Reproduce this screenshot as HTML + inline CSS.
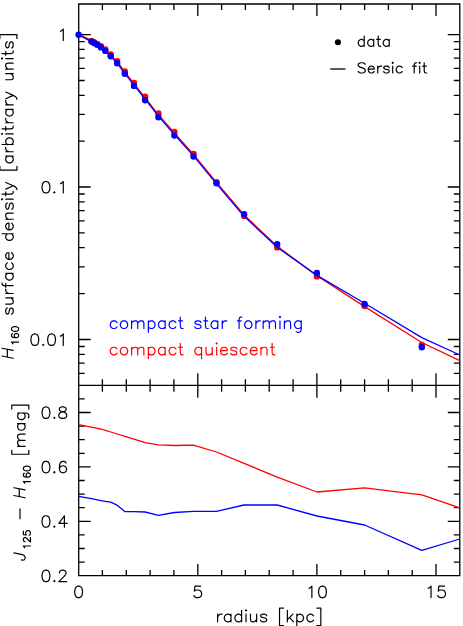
<!DOCTYPE html>
<html><head><meta charset="utf-8"><title>chart</title>
<style>html,body{margin:0;padding:0;background:#fff;overflow:hidden}svg{display:block;position:absolute;left:0;top:0}</style></head>
<body>
<svg width="463" height="626" viewBox="0 0 463 626" role="img" aria-label="Surface density and colour profiles"><desc>H160 surface density [arbitrary units] versus radius [kpc]; J125 - H160 [mag]; legend: data, Sersic fit; compact star forming (blue), compact quiescent (red)</desc>
<rect width="463" height="626" fill="#fff"/>
<path d="M78.7 4.0H459.8V575.7H78.7ZM78.7 385.3H459.8M102.4 4.0v6.0M102.4 379.3v12.5M102.4 575.7v-5.6M126.3 4.0v6.0M126.3 379.3v12.5M126.3 575.7v-5.6M150.1 4.0v6.0M150.1 379.3v12.5M150.1 575.7v-5.6M173.9 4.0v6.0M173.9 379.3v12.5M173.9 575.7v-5.6M197.8 4.0v12.0M197.8 373.3v24.5M197.8 575.7v-11.7M221.6 4.0v6.0M221.6 379.3v12.5M221.6 575.7v-5.6M245.4 4.0v6.0M245.4 379.3v12.5M245.4 575.7v-5.6M269.2 4.0v6.0M269.2 379.3v12.5M269.2 575.7v-5.6M293.1 4.0v6.0M293.1 379.3v12.5M293.1 575.7v-5.6M316.9 4.0v12.0M316.9 373.3v24.5M316.9 575.7v-11.7M340.7 4.0v6.0M340.7 379.3v12.5M340.7 575.7v-5.6M364.6 4.0v6.0M364.6 379.3v12.5M364.6 575.7v-5.6M388.4 4.0v6.0M388.4 379.3v12.5M388.4 575.7v-5.6M412.2 4.0v6.0M412.2 379.3v12.5M412.2 575.7v-5.6M436.0 4.0v12.0M436.0 373.3v24.5M436.0 575.7v-11.7M78.7 34.6h12.0M459.8 34.6h-12.0M78.7 187.0h12.0M459.8 187.0h-12.0M78.7 141.2h6.0M459.8 141.2h-6.0M78.7 114.3h6.0M459.8 114.3h-6.0M78.7 95.3h6.0M459.8 95.3h-6.0M78.7 80.5h6.0M459.8 80.5h-6.0M78.7 68.4h6.0M459.8 68.4h-6.0M78.7 58.2h6.0M459.8 58.2h-6.0M78.7 49.4h6.0M459.8 49.4h-6.0M78.7 41.6h6.0M459.8 41.6h-6.0M78.7 339.5h12.0M459.8 339.5h-12.0M78.7 293.6h6.0M459.8 293.6h-6.0M78.7 266.8h6.0M459.8 266.8h-6.0M78.7 247.7h6.0M459.8 247.7h-6.0M78.7 232.9h6.0M459.8 232.9h-6.0M78.7 220.9h6.0M459.8 220.9h-6.0M78.7 210.7h6.0M459.8 210.7h-6.0M78.7 201.8h6.0M459.8 201.8h-6.0M78.7 194.0h6.0M459.8 194.0h-6.0M78.7 373.3h6.0M459.8 373.3h-6.0M78.7 363.1h6.0M459.8 363.1h-6.0M78.7 354.3h6.0M459.8 354.3h-6.0M78.7 346.5h6.0M459.8 346.5h-6.0M78.7 562.1h6.0M459.8 562.1h-6.0M78.7 548.5h6.0M459.8 548.5h-6.0M78.7 534.9h6.0M459.8 534.9h-6.0M78.7 521.3h12.0M459.8 521.3h-12.0M78.7 507.7h6.0M459.8 507.7h-6.0M78.7 494.1h6.0M459.8 494.1h-6.0M78.7 480.5h6.0M459.8 480.5h-6.0M78.7 466.9h12.0M459.8 466.9h-12.0M78.7 453.3h6.0M459.8 453.3h-6.0M78.7 439.7h6.0M459.8 439.7h-6.0M78.7 426.1h6.0M459.8 426.1h-6.0M78.7 412.5h12.0M459.8 412.5h-12.0M78.7 398.9h6.0M459.8 398.9h-6.0" fill="none" stroke="#000" stroke-width="1.3" stroke-linecap="butt"/>
<polyline fill="none" stroke-width="1.3" stroke-linejoin="round" stroke="#f00" points="78.6,34.1 91.5,40.6 94.1,42.0 97.2,43.8 100.9,46.4 105.3,49.9 110.7,55.2 117.1,61.5 124.8,71.8 134.0,83.7 145.1,97.7 158.4,114.6 174.4,133.0 193.5,154.4 216.5,182.5 244.1,215.0 277.2,246.2 316.9,275.8 364.6,306.6 421.8,342.5 459.8,360.7"/>
<g fill="#f00"><circle cx="91.5" cy="41.0" r="3.2"/><circle cx="94.1" cy="42.3" r="3.2"/><circle cx="97.2" cy="43.9" r="3.2"/><circle cx="100.9" cy="46.2" r="3.2"/><circle cx="105.3" cy="49.4" r="3.2"/><circle cx="110.7" cy="54.4" r="3.2"/><circle cx="117.1" cy="61.2" r="3.2"/><circle cx="124.8" cy="71.5" r="3.2"/><circle cx="134.0" cy="83.0" r="3.2"/><circle cx="145.1" cy="96.7" r="3.2"/><circle cx="158.4" cy="113.5" r="3.2"/><circle cx="174.4" cy="131.9" r="3.2"/><circle cx="193.5" cy="153.9" r="3.2"/><circle cx="216.5" cy="182.3" r="3.2"/><circle cx="244.1" cy="215.9" r="3.2"/><circle cx="277.2" cy="247.4" r="3.2"/><circle cx="316.9" cy="276.4" r="3.2"/><circle cx="364.6" cy="306.1" r="3.2"/><circle cx="421.8" cy="345.0" r="3.2"/></g>
<polyline fill="none" stroke-width="1.3" stroke-linejoin="round" stroke="#00f" points="78.6,34.9 91.5,41.7 94.1,43.1 97.2,44.9 100.9,47.5 105.3,51.0 110.7,56.3 117.1,63.0 124.8,73.3 134.0,85.2 145.1,99.2 158.4,116.1 174.4,134.5 193.5,155.9 216.5,183.9 244.1,216.3 277.2,247.3 316.9,275.4 364.6,303.3 421.8,337.6 459.8,355.0"/>
<g fill="#00f"><circle cx="78.6" cy="34.7" r="3.2"/><circle cx="91.5" cy="41.6" r="3.2"/><circle cx="94.1" cy="43.0" r="3.2"/><circle cx="97.2" cy="44.8" r="3.2"/><circle cx="100.9" cy="47.4" r="3.2"/><circle cx="105.3" cy="50.9" r="3.2"/><circle cx="110.7" cy="56.2" r="3.2"/><circle cx="117.1" cy="63.2" r="3.2"/><circle cx="124.8" cy="73.7" r="3.2"/><circle cx="134.0" cy="85.9" r="3.2"/><circle cx="145.1" cy="100.2" r="3.2"/><circle cx="158.4" cy="117.2" r="3.2"/><circle cx="174.4" cy="135.6" r="3.2"/><circle cx="193.5" cy="156.5" r="3.2"/><circle cx="216.5" cy="183.3" r="3.2"/><circle cx="244.1" cy="214.1" r="3.2"/><circle cx="277.2" cy="244.1" r="3.2"/><circle cx="316.9" cy="273.0" r="3.2"/><circle cx="364.6" cy="304.0" r="3.2"/><circle cx="421.8" cy="347.3" r="3.2"/></g>
<g fill="none" stroke-width="1.3" stroke-linejoin="round">
<polyline stroke="#f00" points="78.6,424.6 91.5,427.2 94.1,427.7 97.2,428.3 100.9,429.0 105.3,430.3 110.7,432.0 117.1,434.0 124.8,436.3 134.0,439.2 145.1,442.6 158.4,444.9 174.4,445.5 193.5,445.2 216.5,452.0 244.1,463.3 277.2,477.1 316.9,492.0 364.6,487.9 421.8,494.8 459.8,507.8"/>
<polyline stroke="#00f" points="78.6,496.4 91.5,498.7 94.1,499.2 97.2,499.8 100.9,500.7 105.3,501.4 110.7,502.2 117.1,505.2 124.8,511.5 134.0,511.7 145.1,512.0 158.4,515.4 174.4,512.5 193.5,511.3 216.5,511.3 244.1,505.0 277.2,505.0 316.9,516.0 364.6,525.0 421.8,550.3 459.8,539.0"/>
</g>
<circle cx="337.9" cy="42.3" r="3.05" fill="#000"/>
<path d="M330.3 69H345.5" stroke="#000" stroke-width="1.3" fill="none"/>
<path transform="translate(356.70 46.30)" d="M7.5 -10.24L7.5 0M7.5 -5.36L6.5 -6.34L5.5 -6.83L4 -6.83L3 -6.34L2 -5.36L1.5 -3.9L1.5 -2.92L2 -1.46L3 -0.49L4 0L5.5 0L6.5 -0.49L7.5 -1.46M17 -6.83L17 0M17 -5.36L16 -6.34L15 -6.83L13.5 -6.83L12.5 -6.34L11.5 -5.36L11 -3.9L11 -2.92L11.5 -1.46L12.5 -0.49L13.5 0L15 0L16 -0.49L17 -1.46M21.5 -10.24L21.5 -1.95L22 -0.49L23 0L24 0M20 -6.83L23.5 -6.83M32.5 -6.83L32.5 0M32.5 -5.36L31.5 -6.34L30.5 -6.83L29 -6.83L28 -6.34L27 -5.36L26.5 -3.9L26.5 -2.92L27 -1.46L28 -0.49L29 0L30.5 0L31.5 -0.49L32.5 -1.46" fill="none" stroke="#000" stroke-width="1.2" stroke-linecap="round" stroke-linejoin="round"/>
<path transform="translate(356.70 73.00)" d="M8.5 -8.78L7.5 -9.75L6 -10.24L4 -10.24L2.5 -9.75L1.5 -8.78L1.5 -7.8L2 -6.83L2.5 -6.34L3.5 -5.85L6.5 -4.88L7.5 -4.39L8 -3.9L8.5 -2.92L8.5 -1.46L7.5 -0.49L6 0L4 0L2.5 -0.49L1.5 -1.46M11.5 -3.9L17.5 -3.9L17.5 -4.88L17 -5.85L16.5 -6.34L15.5 -6.83L14 -6.83L13 -6.34L12 -5.36L11.5 -3.9L11.5 -2.92L12 -1.46L13 -0.49L14 0L15.5 0L16.5 -0.49L17.5 -1.46M21 -6.83L21 0M21 -3.9L21.5 -5.36L22.5 -6.34L23.5 -6.83L25 -6.83M32.5 -5.36L32 -6.34L30.5 -6.83L29 -6.83L27.5 -6.34L27 -5.36L27.5 -4.39L28.5 -3.9L31 -3.41L32 -2.92L32.5 -1.95L32.5 -1.46L32 -0.49L30.5 0L29 0L27.5 -0.49L27 -1.46M35.5 -10.24L36 -9.75L36.5 -10.24L36 -10.72L35.5 -10.24M36 -6.83L36 0M45.5 -5.36L44.5 -6.34L43.5 -6.83L42 -6.83L41 -6.34L40 -5.36L39.5 -3.9L39.5 -2.92L40 -1.46L41 -0.49L42 0L43.5 0L44.5 -0.49L45.5 -1.46M60 -10.24L59 -10.24L58 -9.75L57.5 -8.29L57.5 0M56 -6.83L59.5 -6.83M62.5 -10.24L63 -9.75L63.5 -10.24L63 -10.72L62.5 -10.24M63 -6.83L63 0M67.5 -10.24L67.5 -1.95L68 -0.49L69 0L70 0M66 -6.83L69.5 -6.83" fill="none" stroke="#000" stroke-width="1.2" stroke-linecap="round" stroke-linejoin="round"/>
<path transform="translate(108.60 328.50)" d="M8.4 -6.01L7.28 -7.1L6.16 -7.64L4.48 -7.64L3.36 -7.1L2.24 -6.01L1.68 -4.37L1.68 -3.28L2.24 -1.64L3.36 -0.55L4.48 0L6.16 0L7.28 -0.55L8.4 -1.64M14.56 -7.64L13.44 -7.1L12.32 -6.01L11.76 -4.37L11.76 -3.28L12.32 -1.64L13.44 -0.55L14.56 0L16.24 0L17.36 -0.55L18.48 -1.64L19.04 -3.28L19.04 -4.37L18.48 -6.01L17.36 -7.1L16.24 -7.64L14.56 -7.64M22.96 -7.64L22.96 0M22.96 -5.46L24.64 -7.1L25.76 -7.64L27.44 -7.64L28.56 -7.1L29.12 -5.46L29.12 0M29.12 -5.46L30.8 -7.1L31.92 -7.64L33.6 -7.64L34.72 -7.1L35.28 -5.46L35.28 0M39.76 -7.64L39.76 3.82M39.76 -6.01L40.88 -7.1L42 -7.64L43.68 -7.64L44.8 -7.1L45.92 -6.01L46.48 -4.37L46.48 -3.28L45.92 -1.64L44.8 -0.55L43.68 0L42 0L40.88 -0.55L39.76 -1.64M56.56 -7.64L56.56 0M56.56 -6.01L55.44 -7.1L54.32 -7.64L52.64 -7.64L51.52 -7.1L50.4 -6.01L49.84 -4.37L49.84 -3.28L50.4 -1.64L51.52 -0.55L52.64 0L54.32 0L55.44 -0.55L56.56 -1.64M67.2 -6.01L66.08 -7.1L64.96 -7.64L63.28 -7.64L62.16 -7.1L61.04 -6.01L60.48 -4.37L60.48 -3.28L61.04 -1.64L62.16 -0.55L63.28 0L64.96 0L66.08 -0.55L67.2 -1.64M71.68 -11.47L71.68 -2.18L72.24 -0.55L73.36 0L74.48 0M70 -7.64L73.92 -7.64M92.4 -6.01L91.84 -7.1L90.16 -7.64L88.48 -7.64L86.8 -7.1L86.24 -6.01L86.8 -4.91L87.92 -4.37L90.72 -3.82L91.84 -3.28L92.4 -2.18L92.4 -1.64L91.84 -0.55L90.16 0L88.48 0L86.8 -0.55L86.24 -1.64M96.88 -11.47L96.88 -2.18L97.44 -0.55L98.56 0L99.68 0M95.2 -7.64L99.12 -7.64M109.2 -7.64L109.2 0M109.2 -6.01L108.08 -7.1L106.96 -7.64L105.28 -7.64L104.16 -7.1L103.04 -6.01L102.48 -4.37L102.48 -3.28L103.04 -1.64L104.16 -0.55L105.28 0L106.96 0L108.08 -0.55L109.2 -1.64M113.68 -7.64L113.68 0M113.68 -4.37L114.24 -6.01L115.36 -7.1L116.48 -7.64L118.16 -7.64M133.28 -11.47L132.16 -11.47L131.04 -10.92L130.48 -9.28L130.48 0M128.8 -7.64L132.72 -7.64M138.88 -7.64L137.76 -7.1L136.64 -6.01L136.08 -4.37L136.08 -3.28L136.64 -1.64L137.76 -0.55L138.88 0L140.56 0L141.68 -0.55L142.8 -1.64L143.36 -3.28L143.36 -4.37L142.8 -6.01L141.68 -7.1L140.56 -7.64L138.88 -7.64M147.28 -7.64L147.28 0M147.28 -4.37L147.84 -6.01L148.96 -7.1L150.08 -7.64L151.76 -7.64M154.56 -7.64L154.56 0M154.56 -5.46L156.24 -7.1L157.36 -7.64L159.04 -7.64L160.16 -7.1L160.72 -5.46L160.72 0M160.72 -5.46L162.4 -7.1L163.52 -7.64L165.2 -7.64L166.32 -7.1L166.88 -5.46L166.88 0M170.8 -11.47L171.36 -10.92L171.92 -11.47L171.36 -12.01L170.8 -11.47M171.36 -7.64L171.36 0M175.84 -7.64L175.84 0M175.84 -5.46L177.52 -7.1L178.64 -7.64L180.32 -7.64L181.44 -7.1L182 -5.46L182 0M192.64 -7.64L192.64 1.09L192.08 2.73L191.52 3.28L190.4 3.82L188.72 3.82L187.6 3.28M192.64 -6.01L191.52 -7.1L190.4 -7.64L188.72 -7.64L187.6 -7.1L186.48 -6.01L185.92 -4.37L185.92 -3.28L186.48 -1.64L187.6 -0.55L188.72 0L190.4 0L191.52 -0.55L192.64 -1.64" fill="none" stroke="#00f" stroke-width="1.2" stroke-linecap="round" stroke-linejoin="round"/>
<path transform="translate(108.60 354.90)" d="M8.4 -6.01L7.28 -7.1L6.16 -7.64L4.48 -7.64L3.36 -7.1L2.24 -6.01L1.68 -4.37L1.68 -3.28L2.24 -1.64L3.36 -0.55L4.48 0L6.16 0L7.28 -0.55L8.4 -1.64M14.56 -7.64L13.44 -7.1L12.32 -6.01L11.76 -4.37L11.76 -3.28L12.32 -1.64L13.44 -0.55L14.56 0L16.24 0L17.36 -0.55L18.48 -1.64L19.04 -3.28L19.04 -4.37L18.48 -6.01L17.36 -7.1L16.24 -7.64L14.56 -7.64M22.96 -7.64L22.96 0M22.96 -5.46L24.64 -7.1L25.76 -7.64L27.44 -7.64L28.56 -7.1L29.12 -5.46L29.12 0M29.12 -5.46L30.8 -7.1L31.92 -7.64L33.6 -7.64L34.72 -7.1L35.28 -5.46L35.28 0M39.76 -7.64L39.76 3.82M39.76 -6.01L40.88 -7.1L42 -7.64L43.68 -7.64L44.8 -7.1L45.92 -6.01L46.48 -4.37L46.48 -3.28L45.92 -1.64L44.8 -0.55L43.68 0L42 0L40.88 -0.55L39.76 -1.64M56.56 -7.64L56.56 0M56.56 -6.01L55.44 -7.1L54.32 -7.64L52.64 -7.64L51.52 -7.1L50.4 -6.01L49.84 -4.37L49.84 -3.28L50.4 -1.64L51.52 -0.55L52.64 0L54.32 0L55.44 -0.55L56.56 -1.64M67.2 -6.01L66.08 -7.1L64.96 -7.64L63.28 -7.64L62.16 -7.1L61.04 -6.01L60.48 -4.37L60.48 -3.28L61.04 -1.64L62.16 -0.55L63.28 0L64.96 0L66.08 -0.55L67.2 -1.64M71.68 -11.47L71.68 -2.18L72.24 -0.55L73.36 0L74.48 0M70 -7.64L73.92 -7.64M92.96 -7.64L92.96 3.82M92.96 -6.01L91.84 -7.1L90.72 -7.64L89.04 -7.64L87.92 -7.1L86.8 -6.01L86.24 -4.37L86.24 -3.28L86.8 -1.64L87.92 -0.55L89.04 0L90.72 0L91.84 -0.55L92.96 -1.64M97.44 -7.64L97.44 -2.18L98 -0.55L99.12 0L100.8 0L101.92 -0.55L103.6 -2.18M103.6 -7.64L103.6 0M107.52 -11.47L108.08 -10.92L108.64 -11.47L108.08 -12.01L107.52 -11.47M108.08 -7.64L108.08 0M112 -4.37L118.72 -4.37L118.72 -5.46L118.16 -6.55L117.6 -7.1L116.48 -7.64L114.8 -7.64L113.68 -7.1L112.56 -6.01L112 -4.37L112 -3.28L112.56 -1.64L113.68 -0.55L114.8 0L116.48 0L117.6 -0.55L118.72 -1.64M128.24 -6.01L127.68 -7.1L126 -7.64L124.32 -7.64L122.64 -7.1L122.08 -6.01L122.64 -4.91L123.76 -4.37L126.56 -3.82L127.68 -3.28L128.24 -2.18L128.24 -1.64L127.68 -0.55L126 0L124.32 0L122.64 -0.55L122.08 -1.64M138.32 -6.01L137.2 -7.1L136.08 -7.64L134.4 -7.64L133.28 -7.1L132.16 -6.01L131.6 -4.37L131.6 -3.28L132.16 -1.64L133.28 -0.55L134.4 0L136.08 0L137.2 -0.55L138.32 -1.64M141.68 -4.37L148.4 -4.37L148.4 -5.46L147.84 -6.55L147.28 -7.1L146.16 -7.64L144.48 -7.64L143.36 -7.1L142.24 -6.01L141.68 -4.37L141.68 -3.28L142.24 -1.64L143.36 -0.55L144.48 0L146.16 0L147.28 -0.55L148.4 -1.64M152.32 -7.64L152.32 0M152.32 -5.46L154 -7.1L155.12 -7.64L156.8 -7.64L157.92 -7.1L158.48 -5.46L158.48 0M163.52 -11.47L163.52 -2.18L164.08 -0.55L165.2 0L166.32 0M161.84 -7.64L165.76 -7.64" fill="none" stroke="#f00" stroke-width="1.2" stroke-linecap="round" stroke-linejoin="round"/>
<path transform="translate(68.30 40.50)" d="M-7.81 -9.25L-6.7 -9.79L-5.02 -11.43L-5.02 0" fill="none" stroke="#000" stroke-width="1.2" stroke-linecap="round" stroke-linejoin="round"/>
<path transform="translate(68.30 192.95)" d="M-22.88 -11.43L-24.55 -10.88L-25.67 -9.25L-26.23 -6.53L-26.23 -4.9L-25.67 -2.18L-24.55 -0.54L-22.88 0L-21.76 0L-20.09 -0.54L-18.97 -2.18L-18.41 -4.9L-18.41 -6.53L-18.97 -9.25L-20.09 -10.88L-21.76 -11.43L-22.88 -11.43M-13.95 -1.09L-14.51 -0.54L-13.95 0L-13.39 -0.54L-13.95 -1.09M-7.81 -9.25L-6.7 -9.79L-5.02 -11.43L-5.02 0" fill="none" stroke="#000" stroke-width="1.2" stroke-linecap="round" stroke-linejoin="round"/>
<path transform="translate(68.30 345.40)" d="M-34.04 -11.43L-35.71 -10.88L-36.83 -9.25L-37.39 -6.53L-37.39 -4.9L-36.83 -2.18L-35.71 -0.54L-34.04 0L-32.92 0L-31.25 -0.54L-30.13 -2.18L-29.57 -4.9L-29.57 -6.53L-30.13 -9.25L-31.25 -10.88L-32.92 -11.43L-34.04 -11.43M-25.11 -1.09L-25.67 -0.54L-25.11 0L-24.55 -0.54L-25.11 -1.09M-17.3 -11.43L-18.97 -10.88L-20.09 -9.25L-20.65 -6.53L-20.65 -4.9L-20.09 -2.18L-18.97 -0.54L-17.3 0L-16.18 0L-14.51 -0.54L-13.39 -2.18L-12.83 -4.9L-12.83 -6.53L-13.39 -9.25L-14.51 -10.88L-16.18 -11.43L-17.3 -11.43M-7.81 -9.25L-6.7 -9.79L-5.02 -11.43L-5.02 0" fill="none" stroke="#000" stroke-width="1.2" stroke-linecap="round" stroke-linejoin="round"/>
<path transform="translate(68.30 581.60)" d="M-22.88 -11.43L-24.55 -10.88L-25.67 -9.25L-26.23 -6.53L-26.23 -4.9L-25.67 -2.18L-24.55 -0.54L-22.88 0L-21.76 0L-20.09 -0.54L-18.97 -2.18L-18.41 -4.9L-18.41 -6.53L-18.97 -9.25L-20.09 -10.88L-21.76 -11.43L-22.88 -11.43M-13.95 -1.09L-14.51 -0.54L-13.95 0L-13.39 -0.54L-13.95 -1.09M-8.93 -8.7L-8.93 -9.25L-8.37 -10.34L-7.81 -10.88L-6.7 -11.43L-4.46 -11.43L-3.35 -10.88L-2.79 -10.34L-2.23 -9.25L-2.23 -8.16L-2.79 -7.07L-3.91 -5.44L-9.49 0L-1.67 0" fill="none" stroke="#000" stroke-width="1.2" stroke-linecap="round" stroke-linejoin="round"/>
<path transform="translate(68.30 527.20)" d="M-22.88 -11.43L-24.55 -10.88L-25.67 -9.25L-26.23 -6.53L-26.23 -4.9L-25.67 -2.18L-24.55 -0.54L-22.88 0L-21.76 0L-20.09 -0.54L-18.97 -2.18L-18.41 -4.9L-18.41 -6.53L-18.97 -9.25L-20.09 -10.88L-21.76 -11.43L-22.88 -11.43M-13.95 -1.09L-14.51 -0.54L-13.95 0L-13.39 -0.54L-13.95 -1.09M-3.91 -11.43L-9.49 -3.81L-1.12 -3.81M-3.91 -11.43L-3.91 0" fill="none" stroke="#000" stroke-width="1.2" stroke-linecap="round" stroke-linejoin="round"/>
<path transform="translate(68.30 472.80)" d="M-22.88 -11.43L-24.55 -10.88L-25.67 -9.25L-26.23 -6.53L-26.23 -4.9L-25.67 -2.18L-24.55 -0.54L-22.88 0L-21.76 0L-20.09 -0.54L-18.97 -2.18L-18.41 -4.9L-18.41 -6.53L-18.97 -9.25L-20.09 -10.88L-21.76 -11.43L-22.88 -11.43M-13.95 -1.09L-14.51 -0.54L-13.95 0L-13.39 -0.54L-13.95 -1.09M-2.23 -9.79L-2.79 -10.88L-4.46 -11.43L-5.58 -11.43L-7.25 -10.88L-8.37 -9.25L-8.93 -6.53L-8.93 -3.81L-8.37 -1.63L-7.25 -0.54L-5.58 0L-5.02 0L-3.35 -0.54L-2.23 -1.63L-1.67 -3.26L-1.67 -3.81L-2.23 -5.44L-3.35 -6.53L-5.02 -7.07L-5.58 -7.07L-7.25 -6.53L-8.37 -5.44L-8.93 -3.81" fill="none" stroke="#000" stroke-width="1.2" stroke-linecap="round" stroke-linejoin="round"/>
<path transform="translate(68.30 418.40)" d="M-22.88 -11.43L-24.55 -10.88L-25.67 -9.25L-26.23 -6.53L-26.23 -4.9L-25.67 -2.18L-24.55 -0.54L-22.88 0L-21.76 0L-20.09 -0.54L-18.97 -2.18L-18.41 -4.9L-18.41 -6.53L-18.97 -9.25L-20.09 -10.88L-21.76 -11.43L-22.88 -11.43M-13.95 -1.09L-14.51 -0.54L-13.95 0L-13.39 -0.54L-13.95 -1.09M-6.7 -11.43L-8.37 -10.88L-8.93 -9.79L-8.93 -8.7L-8.37 -7.62L-7.25 -7.07L-5.02 -6.53L-3.35 -5.98L-2.23 -4.9L-1.67 -3.81L-1.67 -2.18L-2.23 -1.09L-2.79 -0.54L-4.46 0L-6.7 0L-8.37 -0.54L-8.93 -1.09L-9.49 -2.18L-9.49 -3.81L-8.93 -4.9L-7.81 -5.98L-6.14 -6.53L-3.91 -7.07L-2.79 -7.62L-2.23 -8.7L-2.23 -9.79L-2.79 -10.88L-4.46 -11.43L-6.7 -11.43" fill="none" stroke="#000" stroke-width="1.2" stroke-linecap="round" stroke-linejoin="round"/>
<path transform="translate(78.60 597.60)" d="M-0.56 -11.43L-2.23 -10.88L-3.35 -9.25L-3.91 -6.53L-3.91 -4.9L-3.35 -2.18L-2.23 -0.54L-0.56 0L0.56 0L2.23 -0.54L3.35 -2.18L3.91 -4.9L3.91 -6.53L3.35 -9.25L2.23 -10.88L0.56 -11.43L-0.56 -11.43" fill="none" stroke="#000" stroke-width="1.2" stroke-linecap="round" stroke-linejoin="round"/>
<path transform="translate(197.75 597.60)" d="M2.79 -11.43L-2.79 -11.43L-3.35 -6.53L-2.79 -7.07L-1.12 -7.62L0.56 -7.62L2.23 -7.07L3.35 -5.98L3.91 -4.35L3.91 -3.26L3.35 -1.63L2.23 -0.54L0.56 0L-1.12 0L-2.79 -0.54L-3.35 -1.09L-3.91 -2.18" fill="none" stroke="#000" stroke-width="1.2" stroke-linecap="round" stroke-linejoin="round"/>
<path transform="translate(316.90 597.60)" d="M-7.81 -9.25L-6.7 -9.79L-5.02 -11.43L-5.02 0M5.02 -11.43L3.35 -10.88L2.23 -9.25L1.67 -6.53L1.67 -4.9L2.23 -2.18L3.35 -0.54L5.02 0L6.14 0L7.81 -0.54L8.93 -2.18L9.49 -4.9L9.49 -6.53L8.93 -9.25L7.81 -10.88L6.14 -11.43L5.02 -11.43" fill="none" stroke="#000" stroke-width="1.2" stroke-linecap="round" stroke-linejoin="round"/>
<path transform="translate(436.05 597.60)" d="M-7.81 -9.25L-6.7 -9.79L-5.02 -11.43L-5.02 0M8.37 -11.43L2.79 -11.43L2.23 -6.53L2.79 -7.07L4.46 -7.62L6.14 -7.62L7.81 -7.07L8.93 -5.98L9.49 -4.35L9.49 -3.26L8.93 -1.63L7.81 -0.54L6.14 0L4.46 0L2.79 -0.54L2.23 -1.09L1.67 -2.18" fill="none" stroke="#000" stroke-width="1.2" stroke-linecap="round" stroke-linejoin="round"/>
<path transform="translate(269.20 621.80)" d="M-51.62 -7.62L-51.62 0M-51.62 -4.35L-51.06 -5.98L-49.94 -7.07L-48.83 -7.62L-47.15 -7.62M-38.22 -7.62L-38.22 0M-38.22 -5.98L-39.34 -7.07L-40.46 -7.62L-42.13 -7.62L-43.25 -7.07L-44.36 -5.98L-44.92 -4.35L-44.92 -3.26L-44.36 -1.63L-43.25 -0.54L-42.13 0L-40.46 0L-39.34 -0.54L-38.22 -1.63M-27.62 -11.43L-27.62 0M-27.62 -5.98L-28.74 -7.07L-29.85 -7.62L-31.53 -7.62L-32.64 -7.07L-33.76 -5.98L-34.32 -4.35L-34.32 -3.26L-33.76 -1.63L-32.64 -0.54L-31.53 0L-29.85 0L-28.74 -0.54L-27.62 -1.63M-23.71 -11.43L-23.16 -10.88L-22.6 -11.43L-23.16 -11.97L-23.71 -11.43M-23.16 -7.62L-23.16 0M-18.69 -7.62L-18.69 -2.18L-18.13 -0.54L-17.02 0L-15.34 0L-14.23 -0.54L-12.55 -2.18M-12.55 -7.62L-12.55 0M-2.51 -5.98L-3.07 -7.07L-4.74 -7.62L-6.42 -7.62L-8.09 -7.07L-8.65 -5.98L-8.09 -4.9L-6.97 -4.35L-4.18 -3.81L-3.07 -3.26L-2.51 -2.18L-2.51 -1.63L-3.07 -0.54L-4.74 0L-6.42 0L-8.09 -0.54L-8.65 -1.63M10.32 -13.6L10.32 3.81M10.32 -13.6L14.23 -13.6M10.32 3.81L14.23 3.81M18.14 -11.43L18.14 0M23.72 -7.62L18.14 -2.18M20.37 -4.35L24.27 0M27.62 -7.62L27.62 3.81M27.62 -5.98L28.74 -7.07L29.85 -7.62L31.53 -7.62L32.64 -7.07L33.76 -5.98L34.32 -4.35L34.32 -3.26L33.76 -1.63L32.64 -0.54L31.53 0L29.85 0L28.74 -0.54L27.62 -1.63M44.36 -5.98L43.25 -7.07L42.13 -7.62L40.46 -7.62L39.34 -7.07L38.22 -5.98L37.67 -4.35L37.67 -3.26L38.22 -1.63L39.34 -0.54L40.46 0L42.13 0L43.25 -0.54L44.36 -1.63M51.62 -13.6L51.62 3.81M47.71 -13.6L51.62 -13.6M47.71 3.81L51.62 3.81" fill="none" stroke="#000" stroke-width="1.2" stroke-linecap="round" stroke-linejoin="round"/>
<path transform="translate(13.20 360.50) rotate(-90)" d="M4.47 -11.19L2.23 0M12.28 -11.19L10.04 0M3.4 -5.86L11.22 -5.86" fill="none" stroke="#000" stroke-width="1.2" stroke-linecap="round" stroke-linejoin="round"/>
<path transform="translate(18.60 345.80) rotate(-90)" d="M2.02 -5.71L2.69 -6.05L3.7 -7.06L3.7 0M12.1 -6.05L11.76 -6.72L10.75 -7.06L10.08 -7.06L9.07 -6.72L8.4 -5.71L8.06 -4.03L8.06 -2.35L8.4 -1.01L9.07 -0.34L10.08 0L10.42 0L11.42 -0.34L12.1 -1.01L12.43 -2.02L12.43 -2.35L12.1 -3.36L11.42 -4.03L10.42 -4.37L10.08 -4.37L9.07 -4.03L8.4 -3.36L8.06 -2.35M16.46 -7.06L15.46 -6.72L14.78 -5.71L14.45 -4.03L14.45 -3.02L14.78 -1.34L15.46 -0.34L16.46 0L17.14 0L18.14 -0.34L18.82 -1.34L19.15 -3.02L19.15 -4.03L18.82 -5.71L18.14 -6.72L17.14 -7.06L16.46 -7.06" fill="none" stroke="#000" stroke-width="1.2" stroke-linecap="round" stroke-linejoin="round"/>
<path transform="translate(13.20 315.80) rotate(-90)" d="M7.81 -5.86L7.25 -6.93L5.58 -7.46L3.91 -7.46L2.23 -6.93L1.67 -5.86L2.23 -4.8L3.35 -4.26L6.14 -3.73L7.25 -3.2L7.81 -2.13L7.81 -1.6L7.25 -0.53L5.58 0L3.91 0L2.23 -0.53L1.67 -1.6M11.72 -7.46L11.72 -2.13L12.28 -0.53L13.39 0L15.07 0L16.18 -0.53L17.86 -2.13M17.86 -7.46L17.86 0M22.32 -7.46L22.32 0M22.32 -4.26L22.88 -5.86L23.99 -6.93L25.11 -7.46L26.78 -7.46M32.92 -11.19L31.81 -11.19L30.69 -10.66L30.13 -9.06L30.13 0M28.46 -7.46L32.36 -7.46M42.41 -7.46L42.41 0M42.41 -5.86L41.29 -6.93L40.18 -7.46L38.5 -7.46L37.39 -6.93L36.27 -5.86L35.71 -4.26L35.71 -3.2L36.27 -1.6L37.39 -0.53L38.5 0L40.18 0L41.29 -0.53L42.41 -1.6M53.01 -5.86L51.89 -6.93L50.78 -7.46L49.1 -7.46L47.99 -6.93L46.87 -5.86L46.31 -4.26L46.31 -3.2L46.87 -1.6L47.99 -0.53L49.1 0L50.78 0L51.89 -0.53L53.01 -1.6M56.36 -4.26L63.05 -4.26L63.05 -5.33L62.5 -6.39L61.94 -6.93L60.82 -7.46L59.15 -7.46L58.03 -6.93L56.92 -5.86L56.36 -4.26L56.36 -3.2L56.92 -1.6L58.03 -0.53L59.15 0L60.82 0L61.94 -0.53L63.05 -1.6M82.03 -11.19L82.03 0M82.03 -5.86L80.91 -6.93L79.79 -7.46L78.12 -7.46L77 -6.93L75.89 -5.86L75.33 -4.26L75.33 -3.2L75.89 -1.6L77 -0.53L78.12 0L79.79 0L80.91 -0.53L82.03 -1.6M85.93 -4.26L92.63 -4.26L92.63 -5.33L92.07 -6.39L91.51 -6.93L90.4 -7.46L88.72 -7.46L87.61 -6.93L86.49 -5.86L85.93 -4.26L85.93 -3.2L86.49 -1.6L87.61 -0.53L88.72 0L90.4 0L91.51 -0.53L92.63 -1.6M96.53 -7.46L96.53 0M96.53 -5.33L98.21 -6.93L99.32 -7.46L101 -7.46L102.11 -6.93L102.67 -5.33L102.67 0M112.72 -5.86L112.16 -6.93L110.48 -7.46L108.81 -7.46L107.14 -6.93L106.58 -5.86L107.14 -4.8L108.25 -4.26L111.04 -3.73L112.16 -3.2L112.72 -2.13L112.72 -1.6L112.16 -0.53L110.48 0L108.81 0L107.14 -0.53L106.58 -1.6M116.06 -11.19L116.62 -10.66L117.18 -11.19L116.62 -11.72L116.06 -11.19M116.62 -7.46L116.62 0M121.64 -11.19L121.64 -2.13L122.2 -0.53L123.32 0L124.43 0M119.97 -7.46L123.88 -7.46M126.67 -7.46L130.01 0M133.36 -7.46L130.01 0L128.9 2.13L127.78 3.2L126.67 3.73L126.11 3.73M145.64 -13.32L145.64 3.73M145.64 -13.32L149.54 -13.32M145.64 3.73L149.54 3.73M159.59 -7.46L159.59 0M159.59 -5.86L158.47 -6.93L157.36 -7.46L155.68 -7.46L154.57 -6.93L153.45 -5.86L152.89 -4.26L152.89 -3.2L153.45 -1.6L154.57 -0.53L155.68 0L157.36 0L158.47 -0.53L159.59 -1.6M164.05 -7.46L164.05 0M164.05 -4.26L164.61 -5.86L165.73 -6.93L166.84 -7.46L168.52 -7.46M171.31 -11.19L171.31 0M171.31 -5.86L172.42 -6.93L173.54 -7.46L175.21 -7.46L176.33 -6.93L177.44 -5.86L178 -4.26L178 -3.2L177.44 -1.6L176.33 -0.53L175.21 0L173.54 0L172.42 -0.53L171.31 -1.6M181.35 -11.19L181.91 -10.66L182.47 -11.19L181.91 -11.72L181.35 -11.19M181.91 -7.46L181.91 0M186.93 -11.19L186.93 -2.13L187.49 -0.53L188.6 0L189.72 0M185.26 -7.46L189.16 -7.46M193.07 -7.46L193.07 0M193.07 -4.26L193.63 -5.86L194.74 -6.93L195.86 -7.46L197.53 -7.46M206.46 -7.46L206.46 0M206.46 -5.86L205.34 -6.93L204.23 -7.46L202.55 -7.46L201.44 -6.93L200.32 -5.86L199.76 -4.26L199.76 -3.2L200.32 -1.6L201.44 -0.53L202.55 0L204.23 0L205.34 -0.53L206.46 -1.6M210.92 -7.46L210.92 0M210.92 -4.26L211.48 -5.86L212.6 -6.93L213.71 -7.46L215.39 -7.46M217.06 -7.46L220.41 0M223.76 -7.46L220.41 0L219.29 2.13L218.18 3.2L217.06 3.73L216.5 3.73M236.03 -7.46L236.03 -2.13L236.59 -0.53L237.71 0L239.38 0L240.5 -0.53L242.17 -2.13M242.17 -7.46L242.17 0M246.64 -7.46L246.64 0M246.64 -5.33L248.31 -6.93L249.43 -7.46L251.1 -7.46L252.22 -6.93L252.77 -5.33L252.77 0M256.68 -11.19L257.24 -10.66L257.8 -11.19L257.24 -11.72L256.68 -11.19M257.24 -7.46L257.24 0M262.26 -11.19L262.26 -2.13L262.82 -0.53L263.93 0L265.05 0M260.59 -7.46L264.49 -7.46M273.98 -5.86L273.42 -6.93L271.75 -7.46L270.07 -7.46L268.4 -6.93L267.84 -5.86L268.4 -4.8L269.51 -4.26L272.3 -3.73L273.42 -3.2L273.98 -2.13L273.98 -1.6L273.42 -0.53L271.75 0L270.07 0L268.4 -0.53L267.84 -1.6M281.23 -13.32L281.23 3.73M277.33 -13.32L281.23 -13.32M277.33 3.73L281.23 3.73" fill="none" stroke="#000" stroke-width="1.2" stroke-linecap="round" stroke-linejoin="round"/>
<path transform="translate(25.10 561.80) rotate(-90)" d="M8.93 -11.19L7.23 -2.66L6.35 -1.07L5.69 -0.53L4.46 0L3.35 0L2.34 -0.53L1.89 -1.07L1.65 -2.66L1.86 -3.73" fill="none" stroke="#000" stroke-width="1.2" stroke-linecap="round" stroke-linejoin="round"/>
<path transform="translate(30.40 549.70) rotate(-90)" d="M2.02 -5.71L2.69 -6.05L3.7 -7.06L3.7 0M8.06 -5.38L8.06 -5.71L8.4 -6.38L8.74 -6.72L9.41 -7.06L10.75 -7.06L11.42 -6.72L11.76 -6.38L12.1 -5.71L12.1 -5.04L11.76 -4.37L11.09 -3.36L7.73 0L12.43 0M18.48 -7.06L15.12 -7.06L14.78 -4.03L15.12 -4.37L16.13 -4.7L17.14 -4.7L18.14 -4.37L18.82 -3.7L19.15 -2.69L19.15 -2.02L18.82 -1.01L18.14 -0.34L17.14 0L16.13 0L15.12 -0.34L14.78 -0.67L14.45 -1.34" fill="none" stroke="#000" stroke-width="1.2" stroke-linecap="round" stroke-linejoin="round"/>
<path d="M20.00 518.7V508.9" stroke="#000" stroke-width="1.2" fill="none" stroke-linecap="round"/>
<path transform="translate(25.10 500.00) rotate(-90)" d="M4.47 -11.19L2.23 0M12.28 -11.19L10.04 0M3.4 -5.86L11.22 -5.86" fill="none" stroke="#000" stroke-width="1.2" stroke-linecap="round" stroke-linejoin="round"/>
<path transform="translate(30.40 485.30) rotate(-90)" d="M2.02 -5.71L2.69 -6.05L3.7 -7.06L3.7 0M12.1 -6.05L11.76 -6.72L10.75 -7.06L10.08 -7.06L9.07 -6.72L8.4 -5.71L8.06 -4.03L8.06 -2.35L8.4 -1.01L9.07 -0.34L10.08 0L10.42 0L11.42 -0.34L12.1 -1.01L12.43 -2.02L12.43 -2.35L12.1 -3.36L11.42 -4.03L10.42 -4.37L10.08 -4.37L9.07 -4.03L8.4 -3.36L8.06 -2.35M16.46 -7.06L15.46 -6.72L14.78 -5.71L14.45 -4.03L14.45 -3.02L14.78 -1.34L15.46 -0.34L16.46 0L17.14 0L18.14 -0.34L18.82 -1.34L19.15 -3.02L19.15 -4.03L18.82 -5.71L18.14 -6.72L17.14 -7.06L16.46 -7.06" fill="none" stroke="#000" stroke-width="1.2" stroke-linecap="round" stroke-linejoin="round"/>
<path transform="translate(25.10 456.50) rotate(-90)" d="M2.23 -13.32L2.23 3.73M2.23 -13.32L6.14 -13.32M2.23 3.73L6.14 3.73M10.04 -7.46L10.04 0M10.04 -5.33L11.72 -6.93L12.83 -7.46L14.51 -7.46L15.62 -6.93L16.18 -5.33L16.18 0M16.18 -5.33L17.86 -6.93L18.97 -7.46L20.65 -7.46L21.76 -6.93L22.32 -5.33L22.32 0M32.92 -7.46L32.92 0M32.92 -5.86L31.81 -6.93L30.69 -7.46L29.02 -7.46L27.9 -6.93L26.78 -5.86L26.23 -4.26L26.23 -3.2L26.78 -1.6L27.9 -0.53L29.02 0L30.69 0L31.81 -0.53L32.92 -1.6M43.52 -7.46L43.52 1.07L42.97 2.66L42.41 3.2L41.29 3.73L39.62 3.73L38.5 3.2M43.52 -5.86L42.41 -6.93L41.29 -7.46L39.62 -7.46L38.5 -6.93L37.39 -5.86L36.83 -4.26L36.83 -3.2L37.39 -1.6L38.5 -0.53L39.62 0L41.29 0L42.41 -0.53L43.52 -1.6M51.34 -13.32L51.34 3.73M47.43 -13.32L51.34 -13.32M47.43 3.73L51.34 3.73" fill="none" stroke="#000" stroke-width="1.2" stroke-linecap="round" stroke-linejoin="round"/>
</svg>
</body></html>
